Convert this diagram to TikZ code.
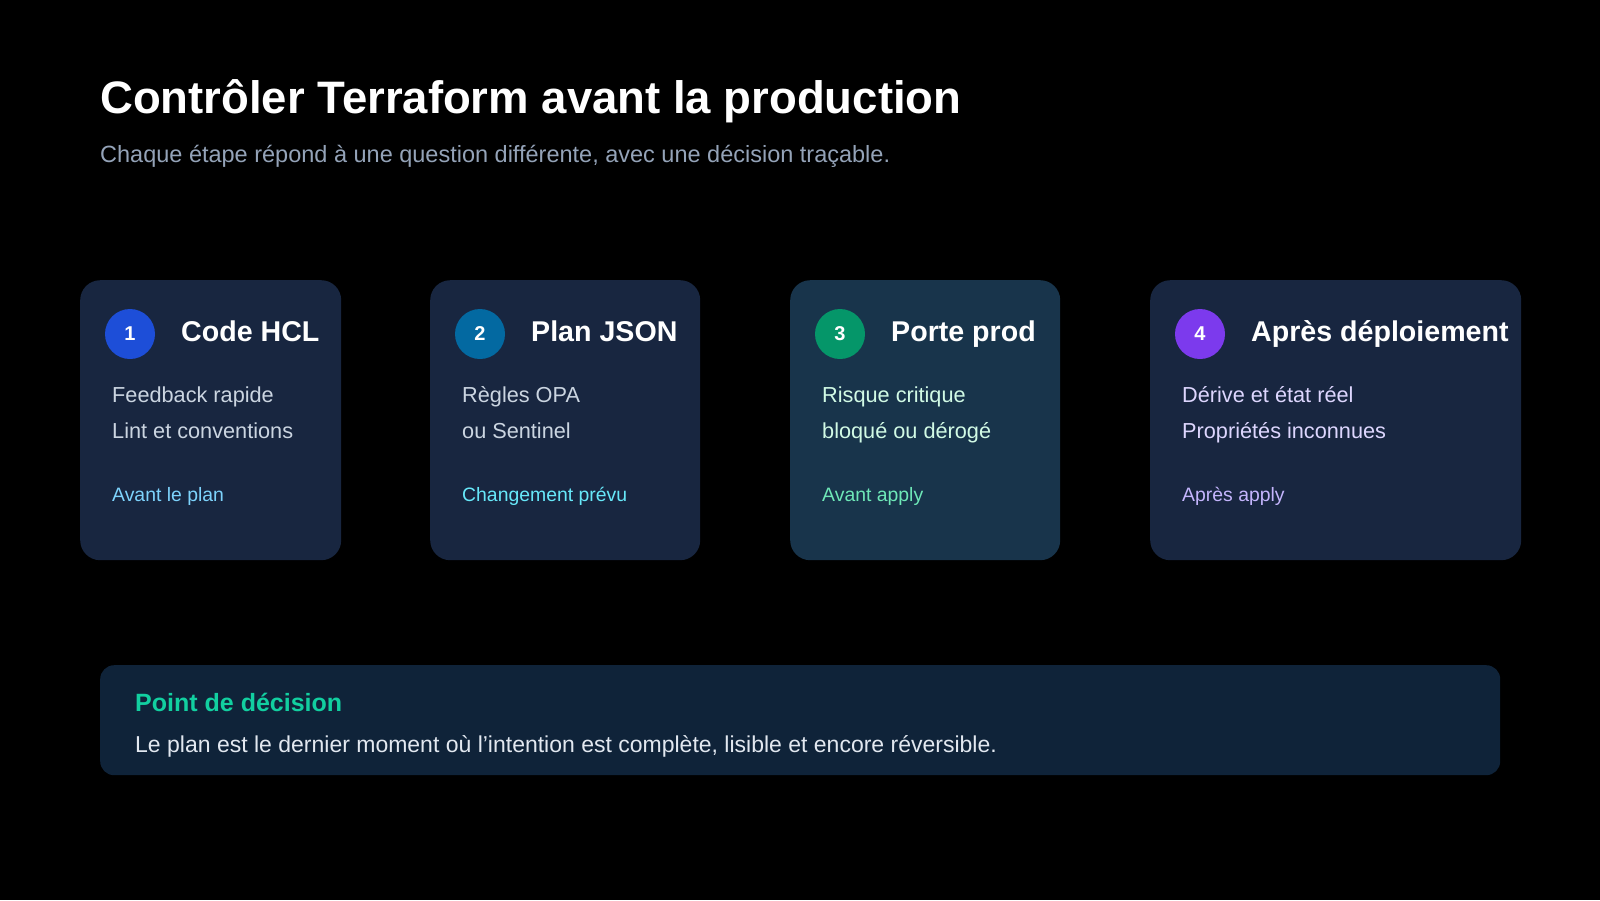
\documentclass[tikz,border=0pt]{standalone}
\usepackage{fontspec}
\setmainfont{Liberation Sans}

\definecolor{carte}{HTML}{182640}
\definecolor{carteprod}{HTML}{18344B}
\definecolor{bandeau}{HTML}{0F2339}
\definecolor{soustitre}{HTML}{94A3B8}
\definecolor{bleu}{HTML}{1D4ED8}
\definecolor{ciel}{HTML}{0369A1}
\definecolor{vert}{HTML}{059669}
\definecolor{violet}{HTML}{7C3AED}
\definecolor{corpsgris}{HTML}{CBD5E1}
\definecolor{corpsvert}{HTML}{D1FAE5}
\definecolor{corpsviolet}{HTML}{DDD6FE}
\definecolor{piedciel}{HTML}{7DD3FC}
\definecolor{piedcyan}{HTML}{67E8F9}
\definecolor{piedvert}{HTML}{6EE7B7}
\definecolor{piedviolet}{HTML}{C4B5FD}
\definecolor{decision}{HTML}{12CFA0}
\definecolor{texteclair}{HTML}{E2E8F0}

\tikzset{
	cartebox/.style = {rounded corners = 20pt, inner sep = 0pt, anchor = north west, minimum height = 280pt},
	pastille/.style = {circle, minimum size = 50pt, inner sep = 0pt, text = white, font = \fontsize{20}{24}\selectfont\bfseries},
	titrecarte/.style = {anchor = base west, inner sep = 0pt, text = white, font = \fontsize{28.6}{34}\selectfont\bfseries},
	corps/.style = {anchor = base west, inner sep = 0pt, font = \fontsize{21.7}{26}\selectfont},
	piedcarte/.style = {anchor = base west, inner sep = 0pt, font = \fontsize{19.4}{23}\selectfont},
}

\begin{document}
\begin{tikzpicture}[x = 1pt, y = -1pt]
		\fill[black] (0,0) rectangle (1600,900);
		\useasboundingbox (0,0) rectangle (1600,900);

		\node[anchor = base west, inner sep = 0pt, text = white, font = \fontsize{45.5}{54}\selectfont\bfseries]
			(titre) at (100,113) {Contrôler Terraform avant la production};
		\node[anchor = base west, inner sep = 0pt, text = soustitre, font = \fontsize{23.5}{28}\selectfont]
			(soustitre) at (100,162) {Chaque étape répond à une question différente, avec une décision traçable.};

		\foreach \n/\x/\w/\fc/\pc/\tc/\fcol/\titre/\la/\lb/\pied in {
			1/80/261/carte/bleu/corpsgris/piedciel/Code HCL/Feedback rapide/Lint et conventions/Avant le plan,
			2/430/270/carte/ciel/corpsgris/piedcyan/Plan JSON/Règles OPA/ou Sentinel/Changement prévu,
			3/790/270/carteprod/vert/corpsvert/piedvert/Porte prod/Risque critique/bloqué ou dérogé/Avant apply,
			4/1150/371/carte/violet/corpsviolet/piedviolet/Après déploiement/Dérive et état réel/Propriétés inconnues/Après apply}
		{
			\node[cartebox, fill = \fc, minimum width = \w pt] (carte\n) at (\x,280) {};
			\node[pastille, fill = \pc] (num\n) at (\x+50,334) {\n};
			\node[titrecarte] (titre\n) at (\x+101,341) {\titre};
			\node[corps, text = \tc] (lignea\n) at (\x+32,402) {\la};
			\node[corps, text = \tc] (ligneb\n) at (\x+32,438) {\lb};
			\node[piedcarte, text = \fcol] (pied\n) at (\x+32,501) {\pied};
		}

		\node[anchor = north west, fill = bandeau, rounded corners = 14pt, minimum width = 1400pt, minimum height = 110pt, inner sep = 0pt]
			(bandeau) at (100,665) {};
		\node[anchor = base west, inner sep = 0pt, text = decision, font = \fontsize{25}{30}\selectfont\bfseries]
			(pointdecision) at (135,711) {Point de décision};
		\node[anchor = base west, inner sep = 0pt, text = texteclair, font = \fontsize{23}{28}\selectfont]
			(phrase) at (135,752) {Le plan est le dernier moment où l’intention est complète, lisible et encore réversible.};
	\end{tikzpicture}
\end{document}
